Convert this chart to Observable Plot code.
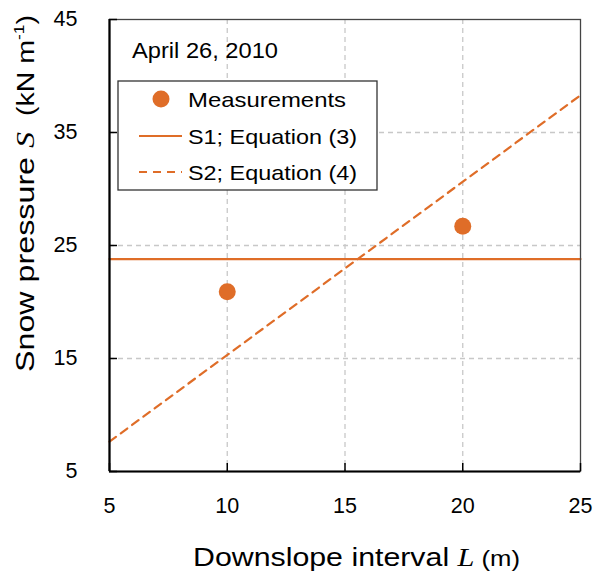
<!DOCTYPE html>
<html>
<head>
<meta charset="utf-8">
<script src="https://cdn.jsdelivr.net/npm/d3@7"></script>
<script src="https://cdn.jsdelivr.net/npm/@observablehq/plot@0.6"></script>
<style>
  html, body { margin: 0; padding: 0; background: #fff; }
  #chart { position: relative; width: 593px; height: 571px; }
  svg { font-family: "Liberation Sans", Arial, sans-serif; }
</style>
</head>
<body>
<div id="chart"></div>
<script>
// ---- data ----
const measL = [10, 20];
const measS = [20.9, 26.7];
const s1L = [5, 25];
const s1S = [23.8, 23.8];
const s2L = [5, 25];
const s2S = [7.65, 38.3];
const xTicks = [5, 10, 15, 20, 25];
const yTicks = [5, 15, 25, 35, 45];
const xGrid = [10, 15, 20];
const yGrid = [15, 25, 35];
const dateLabel = "April 26, 2010";
const legendLabels = ["Measurements", "S1; Equation (3)", "S2; Equation (4)"];

const orange = "#df6d28";
const meas = measL.map((L, i) => ({L, S: measS[i]}));
const s1 = s1L.map((L, i) => ({L, S: s1S[i]}));
const s2 = s2L.map((L, i) => ({L, S: s2S[i]}));

const plot = Plot.plot({
  width: 593,
  height: 571,
  marginLeft: 109,
  marginRight: 13,
  marginTop: 19,
  marginBottom: 100,
  style: {fontFamily: "Liberation Sans, Arial, sans-serif", fontSize: "21.5px", color: "#000", background: "#fff"},
  x: {domain: [5, 25], ticks: xTicks, label: null},
  y: {domain: [5, 45], ticks: yTicks, label: null},
  marks: [
    Plot.ruleX(xGrid, {stroke: "#c8c8c8", strokeWidth: 1.3, strokeDasharray: "5,4"}),
    Plot.ruleY(yGrid, {stroke: "#c8c8c8", strokeWidth: 1.3, strokeDasharray: "5,4"}),
    Plot.line(s1, {x: "L", y: "S", stroke: orange, strokeWidth: 2.2}),
    Plot.line(s2, {x: "L", y: "S", stroke: orange, strokeWidth: 2.2, strokeDasharray: "8,6"}),
    Plot.dot(meas, {x: "L", y: "S", r: 8.5, fill: orange, stroke: "none"}),
    Plot.frame({stroke: "#444", strokeWidth: 1.3}),
    Plot.ruleX([5], {stroke: "#000", strokeWidth: 2.2}),
    Plot.ruleY([5], {stroke: "#000", strokeWidth: 2.2}),
    Plot.axisX({ticks: xTicks, tickSize: 8, dy: -8, text: null, label: null, stroke: "#000", strokeWidth: 1.5}),
    Plot.axisX({ticks: xTicks, tickSize: 0, tickPadding: 26, label: null, fontSize: 21.5}),
    Plot.axisY({ticks: yTicks, tickSize: 8, dx: 8, text: null, label: null, stroke: "#000", strokeWidth: 1.5}),
    Plot.axisY({ticks: yTicks, tickSize: 0, tickPadding: 32, label: null, fontSize: 21.5})
  ]
});
document.getElementById("chart").appendChild(plot);

const svg = d3.select(plot);
const stretch = (sel, len) => sel.attr("textLength", len).attr("lengthAdjust", "spacingAndGlyphs");

// date label
stretch(svg.append("text").attr("x", 132).attr("y", 58).attr("text-anchor", "start")
  .attr("font-size", 21.5).attr("fill", "#000").text(dateLabel), 146);

// legend
const lg = svg.append("g");
lg.append("rect").attr("x", 118).attr("y", 81).attr("width", 259).attr("height", 109)
  .attr("fill", "#fff").attr("stroke", "#333").attr("stroke-width", 1.3);
const rowsY = [99, 136, 172];
const baseY = [106.5, 143.5, 180];
const legLen = [158, 169, 169];
lg.append("circle").attr("cx", 161).attr("cy", rowsY[0]).attr("r", 8.5).attr("fill", orange);
lg.append("line").attr("x1", 139).attr("x2", 182).attr("y1", rowsY[1]).attr("y2", rowsY[1])
  .attr("stroke", orange).attr("stroke-width", 2.2);
lg.append("line").attr("x1", 139).attr("x2", 182).attr("y1", rowsY[2]).attr("y2", rowsY[2])
  .attr("stroke", orange).attr("stroke-width", 2.2).attr("stroke-dasharray", "8,6");
legendLabels.forEach((t, i) => {
  stretch(lg.append("text").attr("x", 188).attr("y", baseY[i]).attr("text-anchor", "start")
    .attr("font-size", 21).attr("fill", "#000").text(t), legLen[i]);
});

// x axis title
const xt = svg.append("text").attr("x", 193).attr("y", 566).attr("text-anchor", "start")
  .attr("font-size", 26).attr("fill", "#000");
xt.append("tspan").text("Downslope interval ");
xt.append("tspan").attr("font-family", "Liberation Serif, Times New Roman, serif").attr("font-style", "italic").text("L");
xt.append("tspan").attr("font-size", 22).text(" (m)");
stretch(xt, 327);

// y axis title
const yt = svg.append("text").attr("transform", "translate(34,372) rotate(-90)")
  .attr("text-anchor", "start").attr("font-size", 26).attr("fill", "#000");
yt.append("tspan").text("Snow pressure ");
yt.append("tspan").attr("font-family", "Liberation Serif, Times New Roman, serif").attr("font-style", "italic").text("S");
yt.append("tspan").attr("font-size", 23).text("  (kN m");
yt.append("tspan").attr("font-size", 14).attr("dy", "-0.75em").text("-1");
yt.append("tspan").attr("font-size", 23).attr("dy", "0.45em").text(")");
stretch(yt, 357);
</script>
</body>
</html>
